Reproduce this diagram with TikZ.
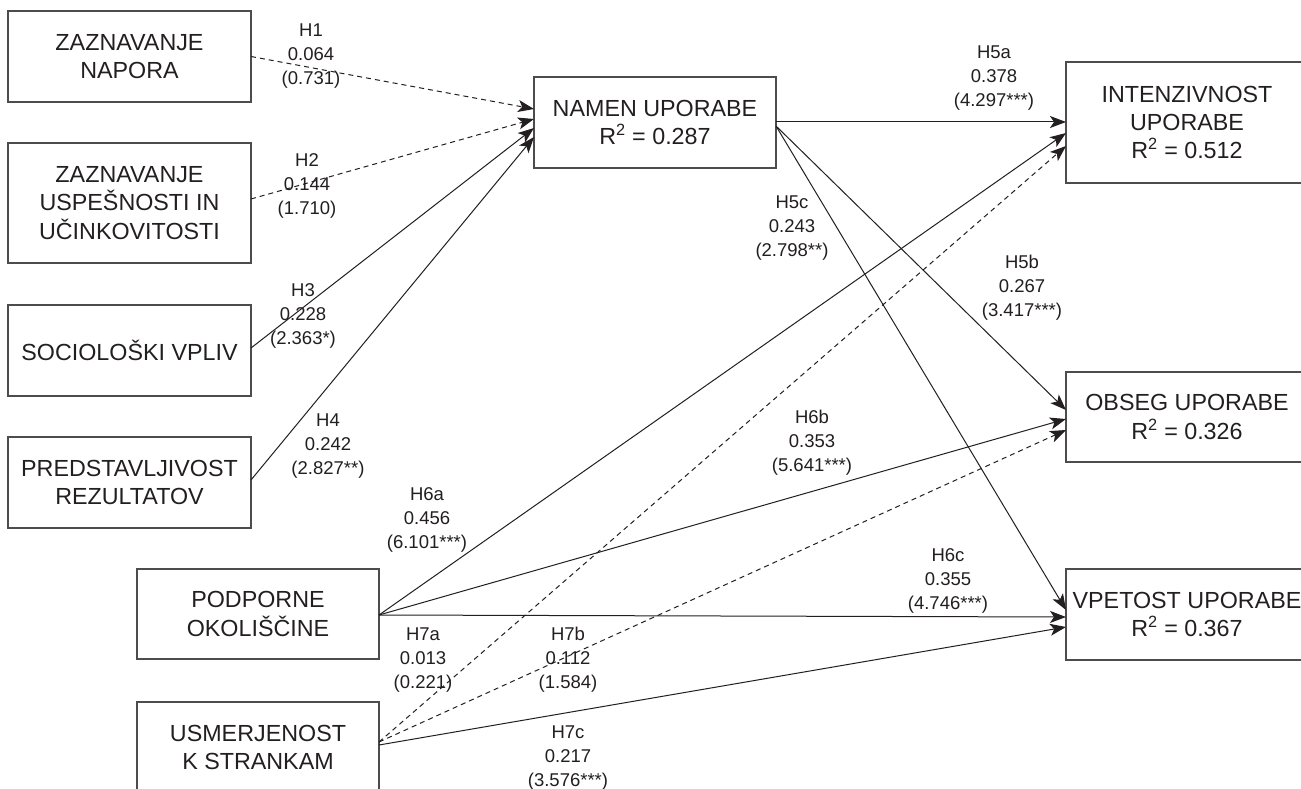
\documentclass[tikz,border=0pt]{standalone}
\usepackage{fontspec}
\setmainfont{Liberation Sans}
\usetikzlibrary{arrows.meta}
\definecolor{ink}{HTML}{231F20}
\begin{document}
\begin{tikzpicture}[x=1pt,y=-1pt,
  box/.style={draw=black!70, line width=1.3pt, inner sep=0pt, outer sep=0pt, align=center, text=ink, font=\fontsize{23.3}{28.3}\selectfont},
  lab/.style={align=center, text=ink, font=\fontsize{18.5}{24}\selectfont, inner sep=0pt},
  con/.style={draw=ink, line width=1pt, -{Stealth[length=16pt,width=12pt,inset=4pt]}},
  dsh/.style={con, dash pattern=on 5pt off 4pt}]
\clip (0,0) rectangle (1301,789);
\fill[white] (0,0) rectangle (1301,789);
% boxes
\node[box, minimum width=243pt, minimum height=91pt]  (zn) at (129.5,56.5)  {ZAZNAVANJE\\NAPORA};
\node[box, minimum width=243pt, minimum height=120pt] (zu) at (129.5,203)   {ZAZNAVANJE\\USPEŠNOSTI IN\\UČINKOVITOSTI};
\node[box, minimum width=243pt, minimum height=91pt]  (sv) at (129.5,350.5) {SOCIOLOŠKI VPLIV};
\node[box, minimum width=243pt, minimum height=91pt]  (pr) at (129.5,482.5) {PREDSTAVLJIVOST\\REZULTATOV};
\node[box, minimum width=242pt, minimum height=91pt]  (nu) at (655,122.5)   {NAMEN UPORABE\\R\textsuperscript{2} = 0.287};
\node[box, minimum width=242pt, minimum height=90pt]  (po) at (258,614)     {PODPORNE\\OKOLIŠČINE};
\node[box, minimum width=242pt, minimum height=91pt]  (us) at (258,747.5)   {USMERJENOST\\K STRANKAM};
\node[box, minimum width=242pt, minimum height=121pt] (in) at (1187,122.5)  {INTENZIVNOST\\UPORABE\\R\textsuperscript{2} = 0.512};
\node[box, minimum width=242pt, minimum height=90pt]  (ob) at (1187,417)    {OBSEG UPORABE\\R\textsuperscript{2} = 0.326};
\node[box, minimum width=242pt, minimum height=91pt]  (vp) at (1187,614.5)  {VPETOST UPORABE\\R\textsuperscript{2} = 0.367};
% connectors
\draw[dsh] (zn.east) -- ([yshift=13.5pt]nu.west);
\draw[dsh] ([yshift=4pt]zu.east) -- ([yshift=3.5pt]nu.west);
\draw[con] ([yshift=2.5pt]sv.east) -- ([yshift=-5.5pt]nu.west);
\draw[con] ([yshift=2.5pt]pr.east) -- ([yshift=-14.5pt]nu.west);
\draw[con] ([yshift=0.5pt]nu.east) -- ([yshift=0.5pt]in.west);
\draw[con] ([yshift=-3.5pt]nu.east) -- ([yshift=7pt]ob.west);
\draw[con] ([yshift=-3.5pt]nu.east) -- ([yshift=4.5pt]vp.west);
\draw[con] ([yshift=-1pt]po.east) -- ([yshift=-10.5pt]in.west);
\draw[con] ([yshift=-1pt]po.east) -- ([yshift=-2pt]ob.west);
\draw[con] ([yshift=-1pt]po.east) -- ([yshift=-2.5pt]vp.west);
\draw[dsh] ([yshift=5.5pt]us.east) -- ([yshift=-23.5pt]in.west);
\draw[dsh] ([yshift=5.5pt]us.east) -- ([yshift=-13pt]ob.west);
\draw[con] ([yshift=2.5pt]us.east) -- ([yshift=-12.5pt]vp.west);
% labels
\node[lab] (l1)  at (311,56)  {H1\\0.064\\(0.731)};
\node[lab] (l2)  at (307,186) {H2\\0.144\\(1.710)};
\node[lab] (l3)  at (303,316) {H3\\0.228\\(2.363*)};
\node[lab] (l4)  at (328,446) {H4\\0.242\\(2.827**)};
\node[lab] (l5a) at (994,78)  {H5a\\0.378\\(4.297***)};
\node[lab] (l5b) at (1022,288) {H5b\\0.267\\(3.417***)};
\node[lab] (l5c) at (792,228) {H5c\\0.243\\(2.798**)};
\node[lab] (l6a) at (427,520) {H6a\\0.456\\(6.101***)};
\node[lab] (l6b) at (812,443) {H6b\\0.353\\(5.641***)};
\node[lab] (l6c) at (948,581) {H6c\\0.355\\(4.746***)};
\node[lab] (l7a) at (423,660) {H7a\\0.013\\(0.221)};
\node[lab] (l7b) at (568,660) {H7b\\0.112\\(1.584)};
\node[lab] (l7c) at (568,758) {H7c\\0.217\\(3.576***)};
\end{tikzpicture}
\end{document}
